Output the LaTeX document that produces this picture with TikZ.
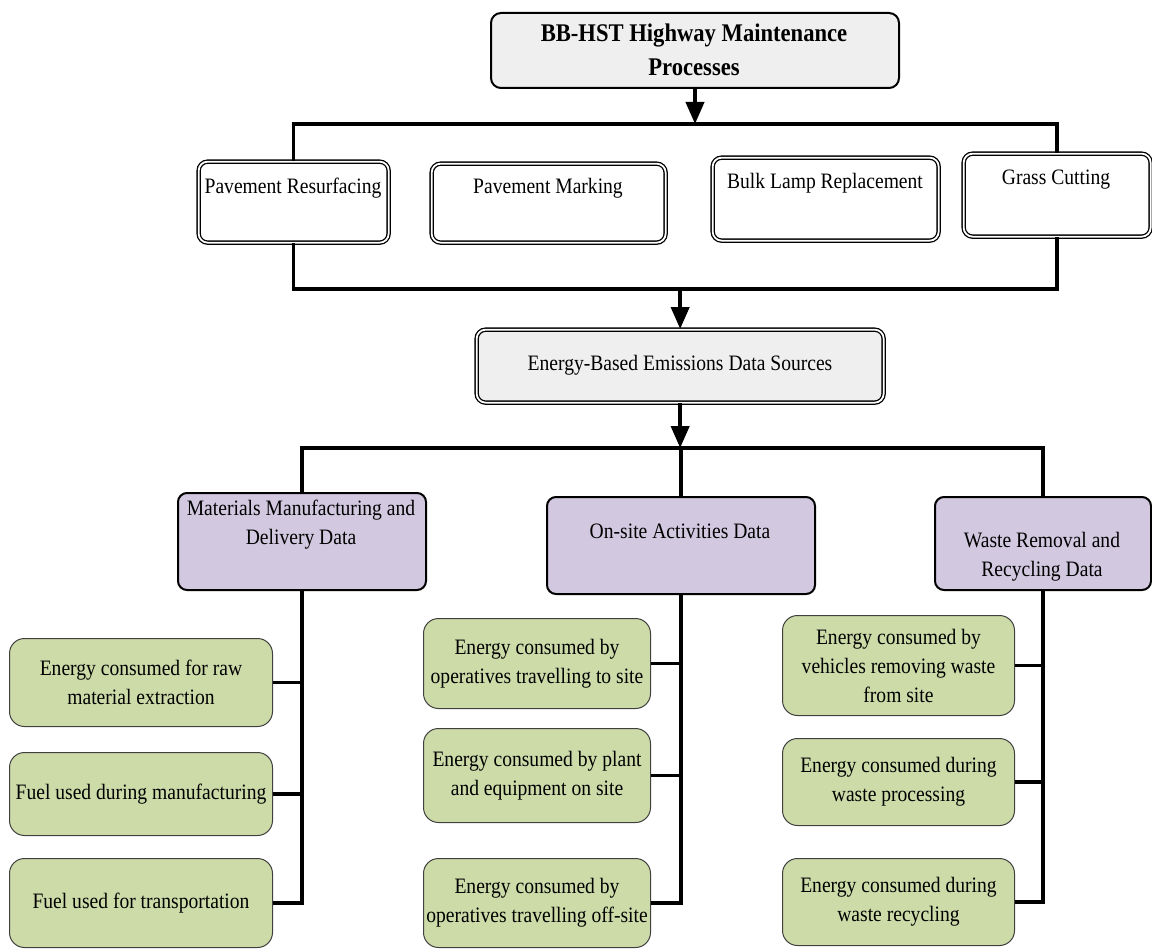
\documentclass[tikz,border=0pt]{standalone}
\usepackage{fontspec}
\setmainfont{Liberation Serif}[FakeStretch=0.89]
\usetikzlibrary{arrows.meta}
\definecolor{boxgray}{HTML}{EFEFEF}
\definecolor{lav}{HTML}{D2C9E0}
\definecolor{sage}{HTML}{CDDBA9}
\begin{document}
\begin{tikzpicture}[x=1pt,y=-1pt,
  txt/.style={font=\fontsize{22}{29}\selectfont, align=center, inner sep=0pt},
  rbox/.style={inner sep=0pt, anchor=north west},
  dbl/.style={rbox, rounded corners=9pt, draw=black, double=white, double distance=1.8pt, line width=1.3pt},
  topbox/.style={rbox, rounded corners=10pt, draw=black, line width=2pt, fill=boxgray},
  purplebox/.style={rbox, rounded corners=9pt, draw=black, line width=2pt, fill=lav},
  greenbox/.style={rbox, rounded corners=15pt, draw=black!75, line width=1pt, fill=sage,
    font=\fontsize{22}{29}\selectfont, align=center},
  bus/.style={line width=3.5pt},
  arr/.style={line width=4pt, -{Triangle[width=18pt,length=22pt]}}
]
\useasboundingbox (0,0) rectangle (1152,950);

% title box
\node[topbox, minimum width=408pt, minimum height=75pt] (top) at (490,12) {};
\node[txt, font=\bfseries\fontsize{25.4}{34}\selectfont] (toptxt) at (694,50)
  {BB-HST Highway Maintenance\\Processes};

% maintenance processes
\node[dbl, minimum width=190pt, minimum height=81pt] (p1) at (198,161) {};
\node[dbl, minimum width=234pt, minimum height=79pt] (p2) at (431,163) {};
\node[dbl, minimum width=226pt, minimum height=83pt] (p3) at (712,157) {};
\node[dbl, minimum width=187pt, minimum height=83pt] (p4) at (963,153) {};
\node[txt] (p1t) at (293,188) {Pavement Resurfacing};
\node[txt] (p2t) at (548,188) {Pavement Marking};
\node[txt] (p3t) at (825,183) {Bulk Lamp Replacement};
\node[txt] (p4t) at (1056,180) {Grass Cutting};

% data sources
\node[dbl, fill=boxgray, minimum width=407pt, minimum height=73pt] (eb) at (476,329) {};
\node[txt] (ebt) at (680,365) {Energy-Based Emissions Data Sources};

% categories
\node[purplebox, minimum width=248pt, minimum height=97pt] (m) at (177,492) {};
\node[purplebox, minimum width=268pt, minimum height=97pt] (o) at (546,496) {};
\node[purplebox, minimum width=216pt, minimum height=93pt] (w) at (934,496) {};
\node[txt] (mt) at (301,525) {Materials Manufacturing and\\Delivery Data};
\node[txt] (ot) at (680,531) {On-site Activities Data};
\node[txt] (wt) at (1042,557) {Waste Removal and\\Recycling Data};

% materials column
\node[greenbox, minimum width=263pt, minimum height=88pt] (g1) at (9,638)
  {Energy consumed for raw\\material extraction};
\node[greenbox, minimum width=263pt, minimum height=83pt] (g2) at (9,752)
  {Fuel used during manufacturing};
\node[greenbox, minimum width=263pt, minimum height=89pt] (g3) at (9,858)
  {Fuel used for transportation};

% on-site column
\node[greenbox, minimum width=227pt, minimum height=90pt] (g4) at (423,618)
  {Energy consumed by\\operatives travelling to site};
\node[greenbox, minimum width=227pt, minimum height=94pt] (g5) at (423,728)
  {Energy consumed by plant\\and equipment on site};
\node[greenbox, minimum width=227pt, minimum height=89pt] (g6) at (423,858)
  {Energy consumed by\\operatives travelling off-site};

% waste column
\node[greenbox, minimum width=232pt, minimum height=100pt] (g7) at (782,615)
  {Energy consumed by\\vehicles removing waste\\from site};
\node[greenbox, minimum width=232pt, minimum height=87pt] (g8) at (782,738)
  {Energy consumed during\\waste processing};
\node[greenbox, minimum width=232pt, minimum height=87pt] (g9) at (782,858)
  {Energy consumed during\\waste recycling};

% bus lines
\coordinate (b1) at (694,124);
\coordinate (b2) at (680,289);
\coordinate (b3) at (680,448);

\draw[arr] (top.south) -- (top.south |- b1);
\draw[bus] (p1.north) -- (p1.north |- b1) -- (p4.north |- b1) -- (p4.north);

\draw[bus] (p1.south) -- (p1.south |- b2) -- (p4.south |- b2) -- (p4.south);
\draw[arr] (eb.north |- b2) -- (eb.north);

\draw[arr] (eb.south) -- (eb.south |- b3);
\draw[bus] (m.north) -- (m.north |- b3) -- (w.north |- b3) -- (w.north);
\draw[bus] (o.north |- b3) -- (o.north);

% column connectors
\draw[bus] (m.south) -- (m.south |- g3.east) -- (g3.east);
\draw[bus] (g1.east) -- (g1.east -| m.south);
\draw[bus] (g2.east) -- (g2.east -| m.south);

\draw[bus] (o.south) -- (o.south |- g6.east) -- (g6.east);
\draw[bus] (g4.east) -- (g4.east -| o.south);
\draw[bus] (g5.east) -- (g5.east -| o.south);

\draw[bus] (w.south) -- (w.south |- g9.east) -- (g9.east);
\draw[bus] (g7.east) -- (g7.east -| w.south);
\draw[bus] (g8.east) -- (g8.east -| w.south);
\end{tikzpicture}
\end{document}
